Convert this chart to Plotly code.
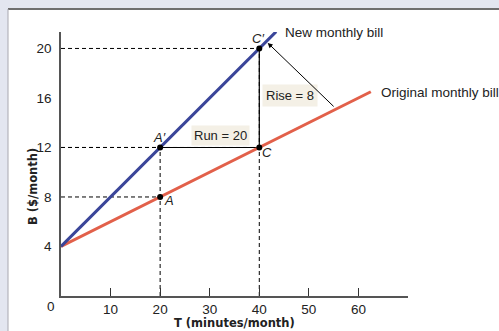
import plotly.graph_objects as go

# ---- data ----
orig_T = [0, 62.5]
orig_B = [4, 16.5]
new_T = [0, 43.4]
new_B = [4, 21.36]
pt_T = [20, 20, 40, 40]
pt_B = [8, 12, 12, 20]
pt_labels = ["<i>A</i>", "<i>A′</i>", "<i>C</i>", "<i>C′</i>"]
x_ticks = [10, 20, 30, 40, 50, 60]
y_ticks = [4, 8, 12, 16, 20]
run_T = [20, 40]; run_B = [12, 12]
rise_T = [40, 40]; rise_B = [12, 20]

W, H = 499, 331
L, R, T, B = 61, 91, 32, 35
pw, ph = W - L - R, H - T - B


def px(xp):
    return (xp - L) / pw


def py(yp):
    return (H - B - yp) / ph


FONT = "Liberation Sans, Arial, sans-serif"
BFONT = "DejaVu Sans, Arial, sans-serif"
fig = go.Figure()

# dashed guide lines (from points to axes)
for t, b in zip(pt_T, pt_B):
    fig.add_trace(go.Scatter(x=[0, t], y=[b, b], mode="lines",
                             line=dict(color="black", width=1, dash="4px,3px"),
                             hoverinfo="skip", showlegend=False))
for t in sorted(set(pt_T)):
    top = max(b for tt, b in zip(pt_T, pt_B) if tt == t)
    fig.add_trace(go.Scatter(x=[t, t], y=[0, top], mode="lines",
                             line=dict(color="black", width=1, dash="4px,3px"),
                             hoverinfo="skip", showlegend=False))

# run / rise
fig.add_trace(go.Scatter(x=run_T, y=run_B, mode="lines", line=dict(color="black", width=1.2),
                         hoverinfo="skip", showlegend=False))
fig.add_trace(go.Scatter(x=rise_T, y=rise_B, mode="lines", line=dict(color="black", width=1.2),
                         hoverinfo="skip", showlegend=False))

# lines
fig.add_trace(go.Scatter(x=orig_T, y=orig_B, mode="lines", line=dict(color="#e2604a", width=3),
                         showlegend=False))
fig.add_trace(go.Scatter(x=new_T, y=new_B, mode="lines", line=dict(color="#3a4599", width=3),
                         showlegend=False))

# points
fig.add_trace(go.Scatter(x=pt_T, y=pt_B, mode="markers", marker=dict(color="black", size=6),
                         showlegend=False))

# background frame
shapes = [
    dict(type="rect", xref="paper", yref="paper", x0=px(8), x1=px(W + 5), y0=py(H + 5), y1=py(9),
         fillcolor="white", line=dict(width=0), layer="below"),
    dict(type="line", xref="paper", yref="paper", x0=px(8), x1=px(W + 5), y0=py(9), y1=py(9),
         line=dict(color="#6e6e6e", width=2), layer="below"),
    dict(type="line", xref="paper", yref="paper", x0=px(8), x1=px(8), y0=py(H + 5), y1=py(9),
         line=dict(color="#a8a8b0", width=1), layer="below"),
]

ann = []
# point labels (pixel offsets; positive yshift = up)
offsets = [(9, -4), (-1, 10), (8, -5), (-1, 10)]
for t, b, lab, (dx, dy) in zip(pt_T, pt_B, pt_labels, offsets):
    ann.append(dict(x=t, y=b, text=lab, showarrow=False, xshift=dx, yshift=dy,
                    xanchor="center", yanchor="middle",
                    font=dict(family=FONT, size=13, color="#222")))


def ptext(x, y, text, size=13.5, family=FONT, xanchor="center", **kw):
    return dict(x=px(x), y=py(y), xref="paper", yref="paper", text=text, showarrow=False,
                xanchor=xanchor, yanchor="middle", font=dict(family=family, size=size, color="#222"), **kw)


ann += [
    dict(x=32.2, y=13.0, text="Run = 20", showarrow=False, bgcolor="#f4f0e6", borderpad=2,
         xanchor="center", yanchor="middle", font=dict(family=FONT, size=13, color="#222")),
    dict(x=46.1, y=16.2, text="Rise = 8", showarrow=False, bgcolor="#f4f0e6", borderpad=3,
         xanchor="center", yanchor="middle", font=dict(family=FONT, size=13, color="#222")),
    dict(x=41.7, y=20.45, ax=55.3, ay=15.2, xref="x", yref="y", axref="x", ayref="y",
         text="", showarrow=True, arrowhead=2, arrowsize=1, arrowwidth=1, arrowcolor="black"),
    ptext(283, 32, "New monthly bill", xanchor="left"),
    ptext(379, 92, "Original monthly bill", xanchor="left"),
    ptext(51, 306, "0"),
    ptext(234, 323, "<b>T (minutes/month)</b>", size=11.5, family=BFONT),
    ptext(33, 187, "<b>B ($/month)</b>", size=11.5, family=BFONT, textangle=-90),
]

fig.update_layout(
    width=W, height=H, margin=dict(l=L, r=R, t=T, b=B),
    paper_bgcolor="#e3e6f0", plot_bgcolor="white",
    shapes=shapes, annotations=ann,
    xaxis=dict(range=[0, 70], showgrid=False, zeroline=False, showline=True, linecolor="#555",
               linewidth=1.5, tickvals=x_ticks, ticks="inside", ticklen=8, tickcolor="#333",
               tickfont=dict(family=FONT, size=13.5, color="#222"), fixedrange=True),
    yaxis=dict(range=[0, 21.33], showgrid=False, zeroline=False, showline=True, linecolor="#555",
               linewidth=1.5, tickvals=y_ticks, ticks="", ticklabelstandoff=5,
               tickfont=dict(family=FONT, size=13.5, color="#222"), fixedrange=True),
)
fig.write_html("out.html", config={"displayModeBar": False},
               post_script="document.body.style.margin='0';document.body.style.overflow='hidden';")
